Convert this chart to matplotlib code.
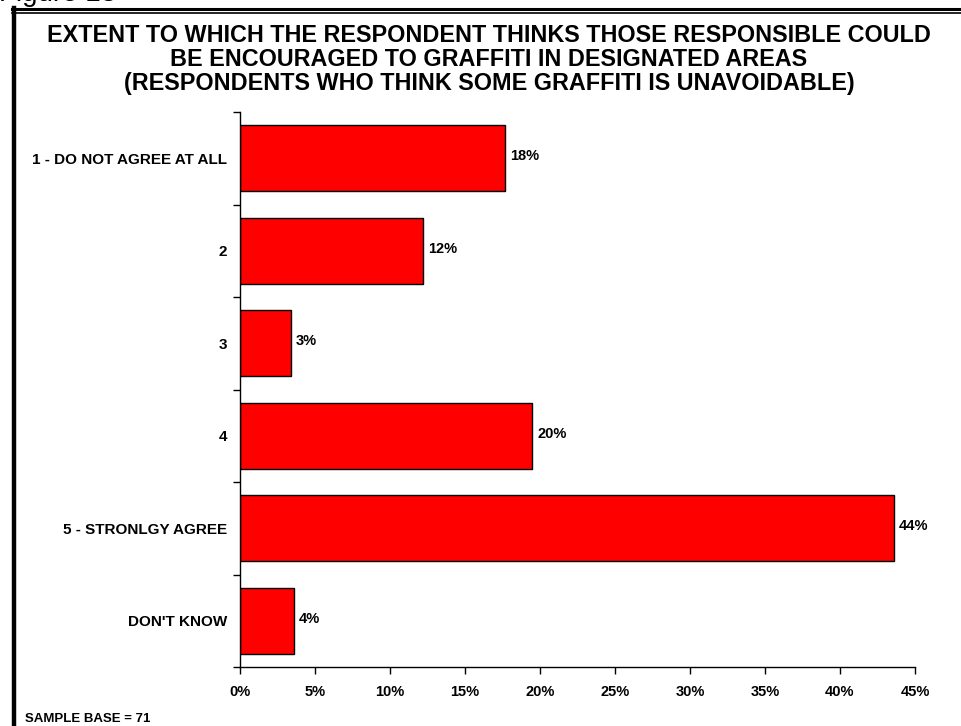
import matplotlib
matplotlib.use("Agg")
import matplotlib.pyplot as plt
from matplotlib.lines import Line2D

plt.rcParams["font.family"] = ["Liberation Sans", "DejaVu Sans"]

categories = [
    "1 - DO NOT AGREE AT ALL",
    "2",
    "3",
    "4",
    "5 - STRONLGY AGREE",
    "DON'T KNOW",
]
shares = [17.7, 12.2, 3.4, 19.5, 43.6, 3.6]
x_ticks = [0, 5, 10, 15, 20, 25, 30, 35, 40, 45]
title_lines = [
    "EXTENT TO WHICH THE RESPONDENT THINKS THOSE RESPONSIBLE COULD",
    "BE ENCOURAGED TO GRAFFITI IN DESIGNATED AREAS",
    "(RESPONDENTS WHO THINK SOME GRAFFITI IS UNAVOIDABLE)",
]
base_note = "SAMPLE BASE = 71"

W, H = 962, 726
fig = plt.figure(figsize=(W / 100, H / 100), dpi=100)
ax = fig.add_axes([240 / W, 1 - 667 / H, (915 - 240) / W, (667 - 112) / H])

ypos = list(range(len(categories)))
ax.barh(ypos, shares, height=0.71, color="#ff0000", edgecolor="black", linewidth=1.0)
for y, v in zip(ypos, shares):
    ax.text(v + 0.33, y - 0.02, f"{v:.0f}%", va="center", ha="left",
            fontsize=10.5, fontweight="bold")

ax.set_ylim(len(categories) - 0.5, -0.5)
ax.set_xlim(0, 45)
ax.set_yticks(ypos)
ax.set_yticklabels(categories, fontsize=11, fontweight="bold")
ax.set_yticks([i - 0.5 for i in range(len(categories) + 1)], minor=True)
ax.tick_params(axis="y", which="major", length=0, pad=9)
ax.tick_params(axis="y", which="minor", length=5, width=1, direction="out")
ax.set_xticks(x_ticks)
ax.set_xticklabels([f"{t}%" for t in x_ticks], fontsize=10.5, fontweight="bold")
ax.tick_params(axis="x", length=5, width=1, direction="out", pad=8)
for side in ("top", "right"):
    ax.spines[side].set_visible(False)
for side in ("left", "bottom"):
    ax.spines[side].set_linewidth(1.0)

# three-line heading, one baseline per line
for line, base_y in zip(title_lines, [42, 66, 90]):
    fig.text(489 / W, 1 - base_y / H, line, ha="center", va="baseline",
             fontsize=16.8, fontweight="bold")
fig.text(25 / W, 1 - 719 / H, base_note, ha="left", va="center",
         fontsize=9.5, fontweight="bold")
# caption sits mostly above the page edge
fig.text(-1 / W, 1 - 1 / H, "Figure 13", ha="left", va="baseline", fontsize=20)

# frame: heavy rule on the left, double rule along the top
fig.add_artist(Line2D([13.5 / W, 13.5 / W], [0, 1 - 8 / H], color="black",
                      linewidth=3.2, transform=fig.transFigure))
fig.add_artist(Line2D([12 / W, 1], [1 - 9 / H, 1 - 9 / H], color="black",
                      linewidth=2.2, transform=fig.transFigure))
fig.add_artist(Line2D([12 / W, 1], [1 - 12.8 / H, 1 - 12.8 / H], color="black",
                      linewidth=1.2, transform=fig.transFigure))

fig.savefig("out.png", dpi=100)
